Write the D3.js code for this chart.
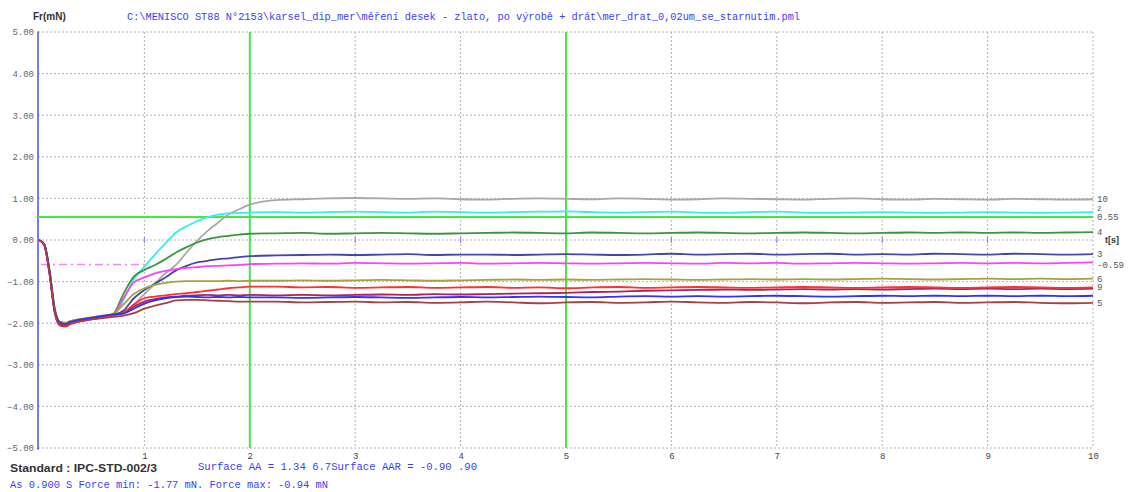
<!DOCTYPE html>
<html><head><meta charset="utf-8">
<script src="https://cdn.jsdelivr.net/npm/d3@7"></script>
<style>html,body{margin:0;padding:0;background:#fff;}svg{display:block;}</style>
</head><body>
<svg id="c" width="1129" height="492"></svg>
<script>
// ---- data ----
const times = [0,0.05,0.1,0.15,0.2,0.25,0.3,0.4,0.5,0.6,0.7,
  0.8,0.9,1.0,1.1,1.2,1.3,1.4,1.5,1.6,1.7,1.8,1.9,2.0,
  2.25,2.5,2.75,3,3.25,3.5,3.75,4,4.25,4.5,4.75,5,5.25,5.5,5.75,6,6.25,6.5,6.75,7,7.25,7.5,7.75,8,8.25,8.5,8.75,9,9.25,9.5,9.75,10];

const gray = [0,-0.1,-0.75,-1.68,-1.98,-2.0,-1.96,-1.92,-1.88,-1.84,-1.8,
  -1.75,-1.55,-1.3,-1.05,-0.8,-0.6,-0.3,-0.02,0.22,0.42,0.62,0.74,0.85,
  0.96,0.98,1.0,1.01,1.0,0.99,1.0,0.98,0.97,0.99,1.0,0.99,0.98,1.0,0.99,0.97,0.98,1.0,0.99,0.98,0.97,0.99,1.0,0.98,0.97,0.99,0.98,0.97,0.99,0.98,0.97,0.98];
const cyan = [0,-0.12,-0.8,-1.72,-2.0,-2.02,-1.97,-1.93,-1.88,-1.85,-1.82,
  -1.45,-0.95,-0.64,-0.35,-0.08,0.18,0.33,0.45,0.55,0.61,0.64,0.65,0.66,
  0.67,0.66,0.67,0.68,0.67,0.66,0.68,0.67,0.66,0.67,0.68,0.69,0.67,0.66,0.67,0.68,0.66,0.65,0.67,0.68,0.66,0.65,0.66,0.67,0.66,0.65,0.66,0.67,0.66,0.65,0.66,0.67];
const green = [0,-0.1,-0.72,-1.65,-1.97,-1.99,-1.95,-1.9,-1.86,-1.82,-1.78,
  -1.3,-0.88,-0.72,-0.6,-0.46,-0.3,-0.17,-0.06,0.02,0.07,0.1,0.13,0.15,
  0.16,0.17,0.15,0.16,0.17,0.16,0.15,0.16,0.17,0.18,0.17,0.16,0.18,0.17,0.16,0.17,0.18,0.17,0.16,0.17,0.18,0.17,0.16,0.17,0.18,0.17,0.18,0.17,0.18,0.17,0.18,0.19];
const navy = [0,-0.1,-0.78,-1.7,-1.98,-2.01,-1.96,-1.92,-1.87,-1.84,-1.8,
  -1.7,-1.4,-1.2,-1.05,-0.9,-0.73,-0.62,-0.54,-0.5,-0.46,-0.44,-0.41,-0.39,
  -0.37,-0.36,-0.35,-0.36,-0.35,-0.34,-0.36,-0.35,-0.35,-0.36,-0.35,-0.34,-0.35,-0.36,-0.35,-0.33,-0.35,-0.34,-0.33,-0.35,-0.34,-0.33,-0.35,-0.34,-0.35,-0.33,-0.34,-0.35,-0.33,-0.34,-0.35,-0.34];
const magenta = [0,-0.12,-0.8,-1.75,-2.05,-2.07,-2.0,-1.94,-1.9,-1.86,-1.8,
  -1.4,-1.02,-0.9,-0.8,-0.74,-0.7,-0.67,-0.65,-0.63,-0.62,-0.61,-0.6,-0.58,
  -0.57,-0.56,-0.57,-0.55,-0.56,-0.57,-0.56,-0.55,-0.57,-0.56,-0.55,-0.56,-0.57,-0.56,-0.55,-0.56,-0.57,-0.55,-0.56,-0.55,-0.57,-0.56,-0.55,-0.56,-0.57,-0.56,-0.55,-0.56,-0.55,-0.56,-0.55,-0.54];
const olive = [0,-0.1,-0.74,-1.68,-1.97,-2.0,-1.95,-1.9,-1.86,-1.82,-1.78,
  -1.55,-1.3,-1.16,-1.08,-1.03,-1.0,-0.99,-0.99,-0.99,-0.99,-0.98,-0.99,-0.98,
  -0.98,-0.97,-0.98,-0.97,-0.96,-0.97,-0.98,-0.97,-0.96,-0.95,-0.96,-0.95,-0.96,-0.95,-0.94,-0.95,-0.96,-0.95,-0.94,-0.95,-0.94,-0.95,-0.94,-0.93,-0.94,-0.95,-0.94,-0.93,-0.94,-0.93,-0.94,-0.93];
const red = [0,-0.12,-0.82,-1.76,-2.06,-2.08,-2.02,-1.95,-1.9,-1.86,-1.82,
  -1.75,-1.55,-1.4,-1.36,-1.33,-1.3,-1.28,-1.25,-1.22,-1.19,-1.16,-1.14,-1.12,
  -1.12,-1.14,-1.13,-1.15,-1.14,-1.13,-1.15,-1.14,-1.13,-1.15,-1.14,-1.16,-1.14,-1.13,-1.15,-1.14,-1.13,-1.14,-1.15,-1.14,-1.13,-1.14,-1.15,-1.14,-1.13,-1.14,-1.15,-1.14,-1.13,-1.14,-1.15,-1.14];
const crimson = [0,-0.11,-0.78,-1.72,-2.02,-2.04,-1.98,-1.92,-1.88,-1.84,-1.8,
  -1.76,-1.6,-1.48,-1.42,-1.38,-1.36,-1.34,-1.33,-1.32,-1.33,-1.32,-1.33,-1.32,
  -1.33,-1.32,-1.33,-1.32,-1.31,-1.32,-1.3,-1.31,-1.3,-1.29,-1.28,-1.27,-1.25,-1.24,-1.22,-1.21,-1.2,-1.19,-1.2,-1.19,-1.18,-1.19,-1.18,-1.19,-1.18,-1.17,-1.18,-1.17,-1.18,-1.17,-1.18,-1.17];
const blue = [0,-0.1,-0.76,-1.7,-1.99,-2.02,-1.97,-1.91,-1.87,-1.83,-1.79,
  -1.77,-1.65,-1.53,-1.45,-1.4,-1.37,-1.36,-1.37,-1.38,-1.37,-1.38,-1.37,-1.38,
  -1.38,-1.39,-1.38,-1.37,-1.38,-1.39,-1.38,-1.37,-1.38,-1.37,-1.36,-1.37,-1.38,-1.36,-1.35,-1.36,-1.35,-1.36,-1.35,-1.34,-1.35,-1.36,-1.35,-1.34,-1.35,-1.34,-1.35,-1.34,-1.35,-1.34,-1.35,-1.34];
const brown = [0,-0.12,-0.8,-1.74,-2.04,-2.06,-2.01,-1.95,-1.91,-1.88,-1.85,
  -1.82,-1.76,-1.65,-1.58,-1.52,-1.45,-1.44,-1.44,-1.45,-1.46,-1.47,-1.48,-1.48,
  -1.48,-1.5,-1.49,-1.48,-1.5,-1.49,-1.51,-1.5,-1.48,-1.5,-1.52,-1.5,-1.49,-1.51,-1.5,-1.48,-1.5,-1.51,-1.49,-1.5,-1.52,-1.5,-1.49,-1.51,-1.5,-1.49,-1.51,-1.5,-1.49,-1.51,-1.52,-1.51];

const seriesNames = ["gray","cyan","green","navy","magenta","olive","crimson","red","blue","brown"];
const seriesValues = [gray,cyan,green,navy,magenta,olive,crimson,red,blue,brown];
const seriesColors = ["#a8a8a8","#30f0f0","#3c963c","#4646a8","#ff40ff","#a8a040","#b0205a","#ff3030","#3030ff","#a84040"];
const seriesLabels = ["10","2","4","3","","6","","9","","5"];

const yTicks = [5,4,3,2,1,0,-1,-2,-3,-4,-5];
const xTicks = [1,2,3,4,5,6,7,8,9,10];
const markerTimes = [2,5];          // green vertical lines
const levelValue = 0.55;            // green horizontal line
const levelLabel = "0.55";
const startLevel = -0.59;           // magenta dash-dot line
const startLevelEnd = 1.0;
const startLevelLabel = "-0.59";

const titleText = "C:\\MENISCO ST88 N°2153\\karsel_dip_mer\\měření desek - zlato, po výrobě + drát\\mer_drat_0,02um_se_starnutim.pml";
const yTitle = "Fr(mN)";
const xTitle = "t[s]";
const standardText = "Standard : IPC-STD-002/3";
const surfaceText = "Surface AA = 1.34  6.7Surface AAR = -0.90  .90";
const forceText = "As 0.900 S Force min: -1.77 mN. Force max: -0.94 mN";

// ---- drawing ----
const svg = d3.select("#c");
const x = d3.scaleLinear().domain([0,10]).range([39,1093]);
const y = d3.scaleLinear().domain([-5,5]).range([448,32]);
const mono = "'Liberation Mono','DejaVu Sans Mono',monospace";
const sans = "'Liberation Sans',Arial,sans-serif";

// grid
const grid = svg.append("g");
grid.selectAll("line.h").data(yTicks).join("line").attr("class","h")
  .attr("x1",x(0)-1).attr("x2",x(10)).attr("y1",d=>y(d)).attr("y2",d=>y(d))
  .attr("stroke","#b4b4b4").attr("stroke-width",1).attr("stroke-dasharray","2,2");
grid.selectAll("line.v").data(xTicks).join("line").attr("class","v")
  .attr("x1",d=>x(d)).attr("x2",d=>x(d)).attr("y1",y(5)).attr("y2",y(-5))
  .attr("stroke","#b4b4b4").attr("stroke-width",1).attr("stroke-dasharray","2,2");
// small blue ticks on zero line
grid.selectAll("line.z").data(xTicks.filter(d=>d<10)).join("line").attr("class","z")
  .attr("x1",d=>x(d)).attr("x2",d=>x(d)).attr("y1",y(0)-3).attr("y2",y(0)+3)
  .attr("stroke","#8080ff").attr("stroke-width",1);

// y axis labels
const yAxis = d3.axisLeft(y).tickValues(yTicks).tickFormat(d3.format(".2f")).tickSize(0).tickPadding(4);
const ya = svg.append("g").attr("transform",`translate(${x(0)-1},0)`).call(yAxis);
ya.select(".domain").remove();
ya.selectAll("text").attr("font-family",mono).attr("font-size",9).attr("fill","#666");
ya.selectAll(".tick").append("rect").attr("x",-1).attr("y",-1).attr("width",2).attr("height",2).attr("fill","#6060ff");

// x axis labels
const xAxis = d3.axisBottom(x).tickValues(xTicks).tickFormat(d3.format("d")).tickSize(0).tickPadding(5);
const xa = svg.append("g").attr("transform",`translate(0,${y(-5)})`).call(xAxis);
xa.select(".domain").remove();
xa.selectAll("text").attr("font-family",mono).attr("font-size",9).attr("fill","#444");

// blue y axis line
svg.append("line").attr("x1",x(0)-1).attr("x2",x(0)-1).attr("y1",y(5)).attr("y2",y(-5))
  .attr("stroke","#7878ff").attr("stroke-width",2);

// green level & marker lines
svg.append("line").attr("x1",x(0)-1).attr("x2",x(10)).attr("y1",y(levelValue)).attr("y2",y(levelValue))
  .attr("stroke","#44e844").attr("stroke-width",2);
svg.selectAll("line.mk").data(markerTimes).join("line").attr("class","mk")
  .attr("x1",d=>x(d)).attr("x2",d=>x(d)).attr("y1",y(5)).attr("y2",y(-5))
  .attr("stroke","#44e844").attr("stroke-width",2);

// magenta dash-dot
svg.append("line").attr("x1",x(0)+2).attr("x2",x(startLevelEnd)).attr("y1",y(startLevel)).attr("y2",y(startLevel))
  .attr("stroke","#ff80ff").attr("stroke-width",1.5).attr("stroke-dasharray","8,4,2,4");

// curves
const line = d3.line().x((d,i)=>x(times[i])).y(d=>y(d)).curve(d3.curveMonotoneX);
svg.append("g").selectAll("path").data(seriesValues).join("path")
  .attr("d",d=>line(d)).attr("fill","none")
  .attr("stroke",(d,i)=>seriesColors[i]).attr("stroke-width",1.8).attr("stroke-linejoin","round");

// right labels
const rl = svg.append("g");
seriesValues.forEach((v,i)=>{
  if(!seriesLabels[i]) return;
  const small = seriesLabels[i]==="2";
  rl.append("text").attr("x",x(10)+4).attr("y",y(v[v.length-1])+(small?-1:3))
    .attr("font-family",mono).attr("font-size",small?7:9).attr("fill","#555").text(seriesLabels[i]);
});
rl.append("text").attr("x",x(10)+4).attr("y",y(levelValue)+3).attr("font-family",mono).attr("font-size",9).attr("fill","#555").text(levelLabel);
rl.append("text").attr("x",x(10)+4).attr("y",y(startLevel)+3).attr("font-family",mono).attr("font-size",9).attr("fill","#555").text(startLevelLabel);
rl.append("text").attr("x",x(10)+12).attr("y",y(0)+3).attr("font-family",sans).attr("font-weight","bold").attr("font-size",9).attr("fill","#333").text(xTitle);

// titles
svg.append("text").attr("x",33).attr("y",20).attr("font-family",sans).attr("font-weight","bold").attr("font-size",10).attr("fill","#333").text(yTitle);
svg.append("text").attr("x",127).attr("y",20).attr("font-family",mono).attr("font-size",10).attr("fill","#3c3cff")
  .attr("textLength",673).attr("lengthAdjust","spacingAndGlyphs").text(titleText);

// bottom texts
svg.append("text").attr("x",10).attr("y",472).attr("font-family",sans).attr("font-weight","bold").attr("font-size",11.5).attr("fill","#333")
  .attr("textLength",147).attr("lengthAdjust","spacingAndGlyphs").text(standardText);
svg.append("text").attr("x",198).attr("y",470).attr("font-family",mono).attr("font-size",10).attr("fill","#3c3cff")
  .attr("textLength",279).attr("lengthAdjust","spacingAndGlyphs").text(surfaceText);
svg.append("text").attr("x",10).attr("y",488).attr("font-family",mono).attr("font-size",10).attr("fill","#3c3cff")
  .attr("textLength",318).attr("lengthAdjust","spacingAndGlyphs").text(forceText);
</script>
</body></html>
